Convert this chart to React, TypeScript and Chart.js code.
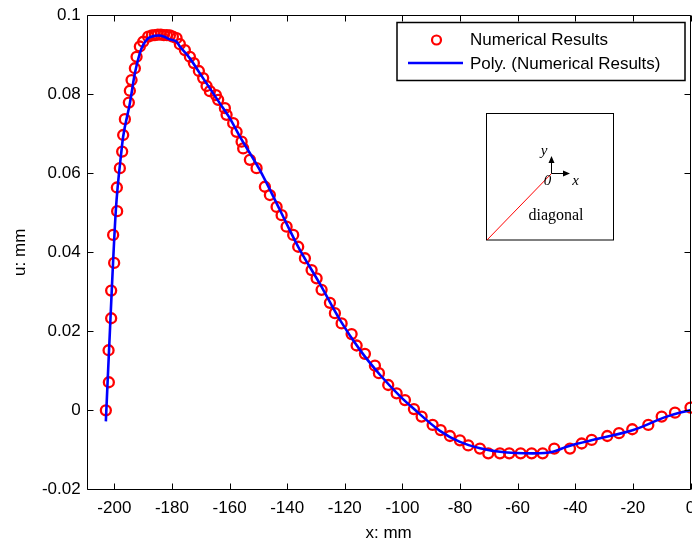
import React, { useEffect, useRef } from "react";
import { Chart, registerables } from "chart.js";

Chart.register(...registerables);

// ---- data ----
const pointX = [
  -202.95, -201.91, -202.01, -201.11, -201.11, -200.07, -200.42, -199.03, -199.13, -198.09,
  -197.29, -196.94, -196.35, -194.97, -194.62, -194.03, -192.88, -192.29, -191.15, -190.0,
  -188.26, -186.98, -185.94, -184.9, -183.85, -182.81, -181.77, -180.73, -179.69, -178.4,
  -177.26, -175.52, -173.78, -172.4, -170.66, -169.17, -167.99, -166.84, -164.76, -163.96,
  -161.63, -161.04, -158.75, -157.57, -155.83, -155.28, -152.95, -150.63, -147.74, -146.01,
  -143.68, -141.94, -140.21, -137.92, -136.18, -133.85, -131.53, -129.79, -128.06, -125.17,
  -123.44, -121.11, -117.64, -115.9, -113.02, -109.55, -108.16, -104.93, -102.01, -99.13,
  -96.01, -93.33, -89.51, -86.74, -83.51, -80.03, -77.15, -73.09, -70.21, -66.15,
  -62.92, -58.96, -55.14, -51.32, -47.29, -41.84, -37.78, -34.31, -28.89, -24.83,
  -20.21, -14.65, -10.0, -5.38, 0,
];
const pointY = [
  0, 0.0071, 0.0152, 0.0233, 0.0303, 0.0373, 0.0444, 0.0504, 0.0564, 0.0613,
  0.0655, 0.0697, 0.0737, 0.0779, 0.0809, 0.0836, 0.0866, 0.0895, 0.0921, 0.0933,
  0.0946, 0.0949, 0.095, 0.0951, 0.0951, 0.095, 0.095, 0.0949, 0.0946, 0.0942,
  0.0927, 0.0912, 0.0895, 0.0879, 0.0859, 0.0841, 0.0821, 0.0808, 0.0798, 0.0786,
  0.0765, 0.0748, 0.0727, 0.0705, 0.068, 0.0663, 0.0634, 0.0613, 0.0566, 0.0545,
  0.0515, 0.0494, 0.0465, 0.0444, 0.0414, 0.0385, 0.0355, 0.0334, 0.0305, 0.0272,
  0.0246, 0.022, 0.0193, 0.0164, 0.0143, 0.0113, 0.0094, 0.0064, 0.0043, 0.0026,
  0.0003, -0.0016, -0.0037, -0.005, -0.0065, -0.0076, -0.0089, -0.0097, -0.0109, -0.0109,
  -0.0109, -0.0109, -0.0109, -0.0109, -0.0097, -0.0097, -0.0084, -0.0075, -0.0065, -0.0058,
  -0.0048, -0.0037, -0.0016, -0.0006, 0.0007,
];
const fitX = [
  -202.95, -201.32, -199.48, -197.5, -196.94, -194.62, -192.88, -191.15, -190.0, -188.26,
  -185.94, -184.55, -182.47, -180.73, -178.4, -177.26, -173.78, -170.31, -166.84, -163.37,
  -159.9, -156.42, -149.48, -142.53, -136.18, -128.65, -121.7, -114.76, -107.81, -100.87,
  -96.25, -86.98, -80.03, -73.09, -66.15, -54.69, -47.74, -42.99, -31.42, -19.86,
  -8.26, 0,
];
const fitY = [
  -0.0028, 0.0237, 0.0507, 0.0659, 0.0693, 0.0777, 0.0853, 0.0904, 0.0925, 0.0942,
  0.0948, 0.0949, 0.0945, 0.0939, 0.0933, 0.0921, 0.0891, 0.0853, 0.0815, 0.0777,
  0.0739, 0.0693, 0.0608, 0.0507, 0.0414, 0.032, 0.0229, 0.0153, 0.009, 0.0036,
  0.0005, -0.0052, -0.008, -0.0096, -0.0105, -0.0109, -0.0105, -0.0092, -0.0071, -0.005,
  -0.0016, 0.0001,
];
const xTickLabels = ["-200", "-180", "-160", "-140", "-120", "-100", "-80", "-60", "-40", "-20", "0"];
const yTickLabels = ["-0.02", "0", "0.02", "0.04", "0.06", "0.08", "0.1"];
const seriesLabels = ["Numerical Results", "Poly. (Numerical Results)"];

const SANS = "'Liberation Sans', Arial, sans-serif";
const SERIF = "'Liberation Serif', 'Times New Roman', serif";

const framePlugin = {
  id: "frameAndNotes",
  afterDraw(chart: any) {
    const { ctx, chartArea: a, scales } = chart;
    const xs = scales.x;
    const ys = scales.y;
    const L = Math.round(a.left) + 0.5;
    const R = Math.round(a.right) - 0.5;
    const T = Math.round(a.top) + 0.5;
    const B = Math.round(a.bottom) + 0.5;
    ctx.save();
    ctx.strokeStyle = "#000";
    ctx.lineWidth = 1;
    ctx.beginPath();
    ctx.rect(L, T, R - L, B - T);
    ctx.stroke();
    const tl = 6;
    ctx.beginPath();
    xs.ticks.forEach((t: any) => {
      const px = Math.round(xs.getPixelForValue(t.value)) + 0.5;
      ctx.moveTo(px, B);
      ctx.lineTo(px, B - tl);
      ctx.moveTo(px, T);
      ctx.lineTo(px, T + tl);
    });
    ys.ticks.forEach((t: any) => {
      const py = Math.round(ys.getPixelForValue(t.value)) + 0.5;
      ctx.moveTo(L, py);
      ctx.lineTo(L + tl, py);
      ctx.moveTo(R, py);
      ctx.lineTo(R - tl, py);
    });
    ctx.stroke();

    // legend
    const ds = chart.data.datasets;
    ctx.fillStyle = "#fff";
    ctx.fillRect(397, 22, 288, 58);
    ctx.lineWidth = 1.5;
    ctx.strokeStyle = "#000";
    ctx.strokeRect(397, 22.5, 288, 58);
    ctx.font = `17px ${SANS}`;
    ctx.fillStyle = "#000";
    ctx.textBaseline = "middle";
    ctx.textAlign = "left";
    ctx.fillText(ds[1].label, 470, 40);
    ctx.fillText(ds[0].label, 470, 64);
    ctx.strokeStyle = ds[1].borderColor;
    ctx.lineWidth = 2.2;
    ctx.beginPath();
    ctx.arc(436.5, 40, 4.5, 0, Math.PI * 2);
    ctx.stroke();
    ctx.strokeStyle = ds[0].borderColor;
    ctx.lineWidth = 2.5;
    ctx.beginPath();
    ctx.moveTo(408, 63);
    ctx.lineTo(463, 63);
    ctx.stroke();

    // inset sketch
    ctx.strokeStyle = "#000";
    ctx.lineWidth = 1;
    ctx.strokeRect(486.5, 113.5, 127, 126.5);
    const ox = 551.5;
    const oy = 173.5;
    ctx.strokeStyle = "#ff0000";
    ctx.beginPath();
    ctx.moveTo(487, 240);
    ctx.lineTo(ox, oy);
    ctx.stroke();
    ctx.strokeStyle = "#000";
    ctx.beginPath();
    ctx.moveTo(ox, oy);
    ctx.lineTo(ox, 160);
    ctx.moveTo(ox, oy);
    ctx.lineTo(566, oy);
    ctx.stroke();
    ctx.fillStyle = "#000";
    ctx.beginPath();
    ctx.moveTo(ox, 156);
    ctx.lineTo(ox - 3, 163);
    ctx.lineTo(ox + 3, 163);
    ctx.closePath();
    ctx.fill();
    ctx.beginPath();
    ctx.moveTo(570, oy);
    ctx.lineTo(563, oy - 3);
    ctx.lineTo(563, oy + 3);
    ctx.closePath();
    ctx.fill();
    ctx.font = `italic 15px ${SERIF}`;
    ctx.textAlign = "center";
    ctx.fillText("y", 544, 151);
    ctx.fillText("0", 547.5, 181);
    ctx.fillText("x", 575.5, 181);
    ctx.font = `16px ${SERIF}`;
    ctx.fillText("diagonal", 556, 216);
    ctx.restore();
  },
};

export default function App() {
  const ref = useRef<HTMLCanvasElement | null>(null);
  useEffect(() => {
    if (!ref.current) return;
    const chart = new Chart(ref.current, {
      type: "scatter",
      data: {
        datasets: [
          {
            type: "line",
            label: seriesLabels[1],
            data: fitX.map((x, i) => ({ x, y: fitY[i] })),
            borderColor: "#0000ff",
            borderWidth: 2.6,
            pointRadius: 0,
            fill: false,
            cubicInterpolationMode: "monotone",
            order: 0,
          } as any,
          {
            type: "scatter",
            label: seriesLabels[0],
            data: pointX.map((x, i) => ({ x, y: pointY[i] })),
            borderColor: "#ff0000",
            backgroundColor: "rgba(0,0,0,0)",
            borderWidth: 2.3,
            pointRadius: 5,
            pointStyle: "circle",
            clip: false,
            order: 1,
          } as any,
        ],
      },
      options: {
        animation: false,
        responsive: false,
        devicePixelRatio: 1,
        layout: { autoPadding: false, padding: { left: 0, right: 1.5, top: 15.3, bottom: 0 } },
        plugins: { legend: { display: false }, tooltip: { enabled: false }, title: { display: false } },
        scales: {
          x: {
            type: "linear",
            min: -209.6,
            max: 0,
            border: { display: false },
            grid: { display: false, drawTicks: false },
            ticks: {
              stepSize: 20,
              includeBounds: false,
              padding: 9,
              color: "#000",
              font: { size: 17, family: SANS },
              maxRotation: 0,
              autoSkip: false,
              callback: (v: any) => {
                const i = Math.round((Number(v) + 200) / 20);
                return xTickLabels[i] ?? "";
              },
            },
            title: { display: true, text: "x: mm", color: "#000", font: { size: 17, family: SANS }, padding: { top: 0, bottom: 0 } },
            afterFit: (s: any) => {
              s.height = 54.7;
              s.paddingLeft = 0;
              s.paddingRight = 0;
            },
          },
          y: {
            type: "linear",
            min: -0.02,
            max: 0.1,
            border: { display: false },
            grid: { display: false, drawTicks: false },
            ticks: {
              stepSize: 0.02,
              padding: 6,
              color: "#000",
              font: { size: 17, family: SANS },
              autoSkip: false,
              callback: (v: any) => {
                const i = Math.round((Number(v) + 0.02) / 0.02);
                return yTickLabels[i] ?? "";
              },
            },
            title: { display: true, text: "u: mm", color: "#000", font: { size: 17, family: SANS }, padding: { top: 10, bottom: 0 } },
            afterFit: (s: any) => {
              s.width = 86.7;
              s.paddingTop = 0;
              s.paddingBottom = 0;
            },
          },
        },
      },
      plugins: [framePlugin],
    });
    return () => chart.destroy();
  }, []);
  return (
    <div style={{ position: "absolute", left: 0, top: 0, width: 692, height: 544, background: "#fff" }}>
      <canvas ref={ref} width={692} height={544} style={{ display: "block", width: 692, height: 544 }} />
    </div>
  );
}
